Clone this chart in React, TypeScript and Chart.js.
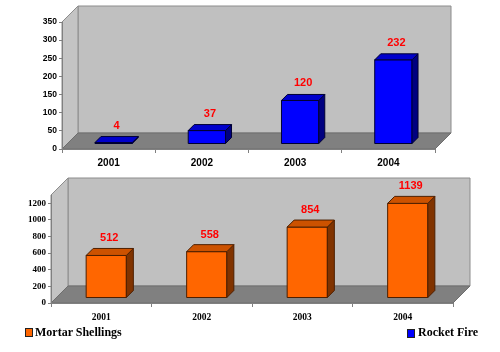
import { useEffect, useRef } from 'react';
import { Chart, registerables } from 'chart.js';

Chart.register(...registerables);

// ---- data ----
const YEARS = ['2001', '2002', '2003', '2004'];
const ROCKET_FIRE = [4, 37, 120, 232];
const MORTAR_SHELLINGS = [512, 558, 854, 1139];
const ROCKET_TICKS = [0, 50, 100, 150, 200, 250, 300, 350];
const MORTAR_TICKS = [0, 200, 400, 600, 800, 1000, 1200];
const ROCKET_MAX = 350;
const MORTAR_MAX = 1300;
const ROCKET_LABEL = 'Rocket Fire';
const MORTAR_LABEL = 'Mortar Shellings';

type Style3D = {
  depth: number;
  shift: number;
  barDepth: number;
  front: string;
  top: string;
  side: string;
  edge: string;
  labelFont: string;
  labelGap: number;
};

function poly(ctx: CanvasRenderingContext2D, pts: number[][], fill: string, stroke: string) {
  ctx.beginPath();
  ctx.moveTo(pts[0][0], pts[0][1]);
  for (let i = 1; i < pts.length; i++) ctx.lineTo(pts[i][0], pts[i][1]);
  ctx.closePath();
  ctx.fillStyle = fill;
  ctx.fill();
  ctx.strokeStyle = stroke;
  ctx.stroke();
}

function make3D(s: Style3D) {
  return {
    id: 'threeD',
    beforeDraw(chart: any) {
      const { ctx, chartArea: a } = chart;
      const d = s.depth;
      ctx.save();
      ctx.lineWidth = 1;
      // back wall
      poly(ctx, [[a.left + d, a.top - d], [a.right + d, a.top - d], [a.right + d, a.bottom - d], [a.left + d, a.bottom - d]], '#C0C0C0', '#8c8c8c');
      // left wall
      poly(ctx, [[a.left, a.bottom], [a.left, a.top], [a.left + d, a.top - d], [a.left + d, a.bottom - d]], '#C4C4C4', '#8c8c8c');
      // floor
      poly(ctx, [[a.left, a.bottom], [a.left + d, a.bottom - d], [a.right + d, a.bottom - d], [a.right, a.bottom]], '#808080', '#6e6e6e');
      ctx.restore();
    },
    afterDatasetsDraw(chart: any) {
      const { ctx } = chart;
      const meta = chart.getDatasetMeta(0);
      const values = chart.data.datasets[0].data as number[];
      const bd = s.barDepth;
      ctx.save();
      ctx.lineWidth = 1;
      meta.data.forEach((el: any, i: number) => {
        const p = el.getProps(['x', 'y', 'base', 'width'], true);
        const x0 = p.x - p.width / 2 + s.shift;
        const x1 = x0 + p.width;
        const top = p.y - s.shift;
        const bot = p.base - s.shift;
        // front
        poly(ctx, [[x0, top], [x1, top], [x1, bot], [x0, bot]], s.front, s.edge);
        // side
        poly(ctx, [[x1, top], [x1 + bd, top - bd], [x1 + bd, bot - bd], [x1, bot]], s.side, s.edge);
        // top
        poly(ctx, [[x0, top], [x0 + bd, top - bd], [x1 + bd, top - bd], [x1, top]], s.top, s.edge);
        // value label
        ctx.fillStyle = '#FF0000';
        ctx.font = s.labelFont;
        ctx.textAlign = 'center';
        ctx.textBaseline = 'middle';
        ctx.fillText(String(values[i]), (x0 + x1) / 2 + 3, top - bd - s.labelGap);
      });
      ctx.restore();
    },
  };
}

function buildChart(
  canvas: HTMLCanvasElement,
  label: string,
  values: number[],
  max: number,
  ticks: number[],
  pad: { left: number; right: number; top: number },
  xHeight: number,
  xFont: any,
  yFont: any,
  xPad: number,
  style: Style3D
) {
  return new Chart(canvas, {
    type: 'bar',
    data: {
      labels: YEARS,
      datasets: [
        {
          label,
          data: values,
          backgroundColor: 'rgba(0,0,0,0)',
          borderWidth: 0,
          categoryPercentage: 1,
          barPercentage: 0.4,
        },
      ],
    },
    options: {
      responsive: false,
      animation: false,
      events: [],
      layout: { padding: { left: 0, right: pad.right, top: pad.top, bottom: 0 } },
      plugins: { legend: { display: false }, tooltip: { enabled: false } },
      scales: {
        x: {
          grid: { offset: true, drawOnChartArea: false, drawTicks: true, tickLength: 4, color: '#808080' },
          border: { color: '#808080', width: 1 },
          ticks: { color: '#000', font: xFont, padding: xPad, maxRotation: 0 },
          afterFit: (sc: any) => {
            sc.height = xHeight;
          },
        },
        y: {
          min: 0,
          max,
          grid: { drawOnChartArea: false, drawTicks: true, tickLength: 3, color: '#808080' },
          border: { color: '#808080', width: 1 },
          ticks: { color: '#000', font: yFont, padding: 2, callback: (v: any) => String(v) },
          afterBuildTicks: (sc: any) => {
            sc.ticks = ticks.map((v) => ({ value: v }));
          },
          afterFit: (sc: any) => {
            sc.width = pad.left;
          },
        },
      },
    },
    plugins: [make3D(style)],
  });
}

export default function App() {
  const topRef = useRef<HTMLCanvasElement>(null);
  const botRef = useRef<HTMLCanvasElement>(null);

  useEffect(() => {
    const c1 = buildChart(
      topRef.current!,
      ROCKET_LABEL,
      ROCKET_FIRE,
      ROCKET_MAX,
      ROCKET_TICKS,
      { left: 62, right: 65, top: 22 },
      21,
      { family: '"Liberation Sans", Arial, sans-serif', size: 10, weight: 'bold' },
      { family: '"Liberation Sans", Arial, sans-serif', size: 8.5, weight: 'bold' },
      4,
      {
        depth: 16,
        shift: 5,
        barDepth: 6,
        front: '#0000FF',
        top: '#0000CC',
        side: '#000080',
        edge: '#000033',
        labelFont: 'bold 11px "Liberation Sans", Arial, sans-serif',
        labelGap: 11,
      }
    );
    const c2 = buildChart(
      botRef.current!,
      MORTAR_LABEL,
      MORTAR_SHELLINGS,
      MORTAR_MAX,
      MORTAR_TICKS,
      { left: 51, right: 47, top: 25 },
      49,
      { family: '"Liberation Serif", "Times New Roman", serif', size: 9.5, weight: 'bold' },
      { family: '"Liberation Serif", "Times New Roman", serif', size: 9, weight: 'bold' },
      5,
      {
        depth: 17,
        shift: 5,
        barDepth: 7,
        front: '#FF6600',
        top: '#CC5200',
        side: '#803300',
        edge: '#4d1f00',
        labelFont: 'bold 11px "Liberation Sans", Arial, sans-serif',
        labelGap: 10,
      }
    );
    return () => {
      c1.destroy();
      c2.destroy();
    };
  }, []);

  const legendText: any = {
    position: 'absolute',
    fontFamily: '"Liberation Serif", "Times New Roman", serif',
    fontWeight: 'bold',
    fontSize: 12,
    lineHeight: '12px',
    color: '#000',
    whiteSpace: 'nowrap',
  };
  const sq = (bg: string): any => ({
    position: 'absolute',
    width: 6,
    height: 7,
    background: bg,
    border: '1px solid #222',
  });

  return (
    <div style={{ position: 'absolute', left: 0, top: 0, width: 500, height: 352, background: '#fff', overflow: 'hidden' }}>
      <canvas ref={topRef} width={500} height={170} style={{ position: 'absolute', left: 0, top: 0, display: 'block' }} />
      <canvas ref={botRef} width={500} height={182} style={{ position: 'absolute', left: 0, top: 170, display: 'block' }} />
      <div style={{ ...sq('#FF6600'), left: 25, top: 328 }} />
      <div style={{ ...legendText, left: 35, top: 326 }}>{MORTAR_LABEL}</div>
      <div style={{ ...sq('#0000FF'), left: 407, top: 329 }} />
      <div style={{ ...legendText, left: 418, top: 326 }}>{ROCKET_LABEL}</div>
    </div>
  );
}
